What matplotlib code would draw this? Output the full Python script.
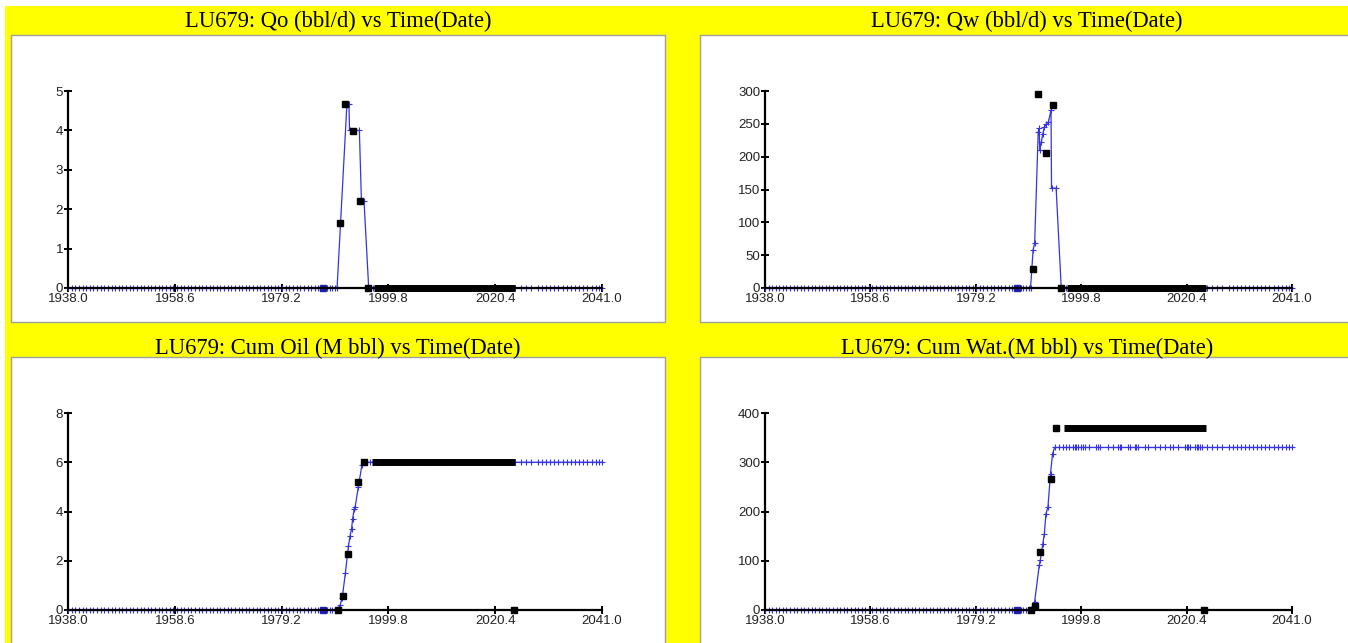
import matplotlib.pyplot as plt
from matplotlib.patches import Rectangle

W, H = 1348, 643

titles = ['LU679: Qo (bbl/d) vs Time(Date)', 'LU679: Qw (bbl/d) vs Time(Date)',
          'LU679: Cum Oil (M bbl) vs Time(Date)', 'LU679: Cum Wat.(M bbl) vs Time(Date)']
x_ticks = [1938.0, 1958.6, 1979.2, 1999.8, 2020.4, 2041.0]
x_labels = ['1938.0', '1958.6', '1979.2', '1999.8', '2020.4', '2041.0']
y_ticks = [[0, 1, 2, 3, 4, 5],
           [0, 50, 100, 150, 200, 250, 300],
           [0, 2, 4, 6, 8],
           [0, 100, 200, 300, 400]]

# simulation report steps before production (all zero)
pre_years = [1938.0, 1938.7, 1939.4, 1940.1, 1940.8, 1941.5, 1942.2, 1942.9, 1943.6, 1944.3,
             1945.0, 1945.7, 1946.4, 1947.1, 1947.8, 1948.5, 1949.2, 1949.9, 1950.6, 1951.3,
             1952.0, 1952.7, 1953.4, 1954.1, 1954.8, 1955.5, 1956.2, 1956.9, 1957.6, 1958.3,
             1959.0, 1959.7, 1960.4, 1961.1, 1961.8, 1962.5, 1963.2, 1963.9, 1964.6, 1965.3,
             1966.0, 1966.7, 1967.4, 1968.1, 1968.8, 1969.5, 1970.2, 1970.9, 1971.6, 1972.3,
             1973.0, 1973.7, 1974.4, 1975.1, 1975.8, 1976.5, 1977.2, 1977.9, 1978.6, 1979.3,
             1980.0, 1980.7, 1981.4, 1982.1, 1982.8, 1983.5, 1984.2, 1984.9, 1985.6, 1986.3,
             1986.8, 1987.2, 1987.5, 1988.0, 1988.5, 1989.0, 1989.5]
# simulation report steps after shut-in
post_years = [1996.9, 1997.5, 1998.2, 1998.5, 1998.8, 1999.15, 1999.8, 2000.1, 2000.45, 2001.4,
              2002.7, 2003.1, 2003.4, 2005.0, 2006.0, 2007.0, 2007.3, 2007.6, 2009.0, 2009.3,
              2010.3, 2010.6, 2010.9, 2012.2, 2012.9, 2014.2, 2015.2, 2016.1, 2017.1, 2017.8,
              2018.8, 2020.1, 2020.4, 2020.7, 2021.05, 2022.0, 2022.4, 2022.7, 2023.0, 2023.35,
              2024.3, 2025.3, 2026.3, 2027.3, 2028.6, 2029.4, 2030.2, 2031.0, 2031.8, 2032.6,
              2033.4, 2034.2, 2035.0, 2035.8, 2036.6, 2037.4, 2038.2, 2039.0, 2039.8, 2040.4, 2041.0]
blue_sq_year = 1987.2

# simulated curve during production
qo_sim_years = [1989.9, 1991.8, 1992.2, 1992.3, 1994.2, 1994.6, 1995.1, 1996.0]
qo_sim = [0.0, 4.67, 4.67, 4.0, 4.0, 2.2, 2.2, 0.0]
qw_sim_years = [1989.9, 1990.4, 1990.7, 1991.4, 1991.6, 1991.7, 1992.0, 1992.3, 1992.6, 1993.0,
                1993.4, 1993.9, 1994.0, 1994.9, 1995.9]
qw_sim = [0, 58, 68, 238, 243, 210, 222, 235, 245, 250, 253, 271, 152, 152, 0]
co_sim_years = [1990.0, 1990.5, 1990.9, 1991.5, 1992.1, 1992.4, 1992.7, 1992.9, 1993.2, 1993.4,
                1994.0, 1994.7, 1995.0, 1995.6, 1996.2]
co_sim = [0.0, 0.2, 0.5, 1.5, 2.6, 3.0, 3.3, 3.7, 4.1, 4.2, 5.0, 5.9, 6.0, 6.0, 6.0]
cw_sim_years = [1989.9, 1990.7, 1991.6, 1991.8, 1992.3, 1992.6, 1992.9, 1993.3, 1993.8, 1994.2,
                1994.6, 1995.55, 1996.2]
cw_sim = [0, 17, 91, 101, 135, 155, 195, 209, 277, 317, 330, 330, 330]
sim_after = [0.0, 0.0, 6.0, 330.0]

# observed history
qo_obs_years = [1990.4, 1991.4, 1992.9, 1994.3, 1995.9]
qo_obs = [1.65, 4.67, 3.99, 2.2, 0.0]
qw_obs_years = [1990.4, 1991.4, 1992.9, 1994.3, 1995.9]
qw_obs = [28.5, 296, 206, 278, 0]
co_obs_years = [1990.0, 1991.0, 1992.0, 1994.0, 1995.0, 2024.0]
co_obs = [0.0, 0.58, 2.28, 5.2, 6.0, 0.0]
cw_obs_years = [1990.0, 1990.8, 1991.8, 1993.9, 1994.9, 2023.8]
cw_obs = [0, 8.7, 117, 267, 370, 0]
# dense monthly history drawn as a band: start, end, value
band_start = [1997.0, 1997.0, 1996.6, 1996.5]
band_end = [2024.2, 2024.2, 2024.2, 2024.2]
band_val = [0.0, 0.0, 6.0, 370.0]

sim_years = [qo_sim_years, qw_sim_years, co_sim_years, cw_sim_years]
sim_vals = [qo_sim, qw_sim, co_sim, cw_sim]
obs_years = [qo_obs_years, qw_obs_years, co_obs_years, cw_obs_years]
obs_vals = [qo_obs, qw_obs, co_obs, cw_obs]

fig = plt.figure(figsize=(W / 100, H / 100), dpi=100)
fig.patch.set_facecolor('white')
fig.add_artist(Rectangle((5 / W, 0), 1 - 5 / W, (H - 6) / H, transform=fig.transFigure,
                         facecolor='#ffff00', edgecolor='none', zorder=-3))

box_x = [11, 700]
box_y = [(35, 322), (357, 650)]
ax_x = [(68, 602), (765, 1292)]
ax_y = [(91, 288), (413, 610)]
title_y = [19, 346]

for i in range(4):
    r, c = divmod(i, 2)
    bx = box_x[c]
    by0, by1 = box_y[r]
    fig.add_artist(Rectangle((bx / W, 1 - by1 / H), 654 / W, (by1 - by0) / H,
                             transform=fig.transFigure, facecolor='white',
                             edgecolor='#a0a0a0', lw=1, zorder=-2))
    fig.text((bx + 327) / W, 1 - title_y[r] / H, titles[i], ha='center', va='center_baseline',
             fontsize=16.3, family='Liberation Serif', color='black')

    x0, x1 = ax_x[c]
    y0, y1 = ax_y[r]
    ax = fig.add_axes([x0 / W, 1 - y1 / H, (x1 - x0) / W, (y1 - y0) / H])
    ax.set_facecolor('none')

    xs = pre_years + sim_years[i] + post_years
    ys = [0.0] * len(pre_years) + sim_vals[i] + [sim_after[i]] * len(post_years)
    ax.plot(xs, ys, color='#3434e0', lw=0.9, marker='+', ms=4.5, mew=0.8, clip_on=False, zorder=2)
    ax.plot([blue_sq_year], [0], 's', color='#2020b0', ms=4, clip_on=False, zorder=2)
    ax.plot([band_start[i], band_end[i]], [band_val[i], band_val[i]], color='black', lw=5,
            solid_capstyle='butt', clip_on=False, zorder=4)
    ax.plot(obs_years[i], obs_vals[i], 's', color='black', ms=4.5, clip_on=False, zorder=5)

    ax.set_xlim(1938.0, 2041.0)
    ax.set_ylim(0, y_ticks[i][-1])
    ax.set_xticks(x_ticks)
    ax.set_xticklabels(x_labels)
    ax.set_yticks(y_ticks[i])
    ax.set_yticklabels([str(v) for v in y_ticks[i]])
    for s in ['top', 'right']:
        ax.spines[s].set_visible(False)
    for s in ['left', 'bottom']:
        ax.spines[s].set_linewidth(1.6)
        ax.spines[s].set_color('black')
        ax.spines[s].set_zorder(3)
    ax.tick_params(direction='inout', length=6, width=1.4, labelsize=9.5, pad=0.5,
                   labelcolor='#222222')
    for lab in ax.get_xticklabels() + ax.get_yticklabels():
        lab.set_family('Liberation Sans')

plt.savefig('out.png', dpi=100)
